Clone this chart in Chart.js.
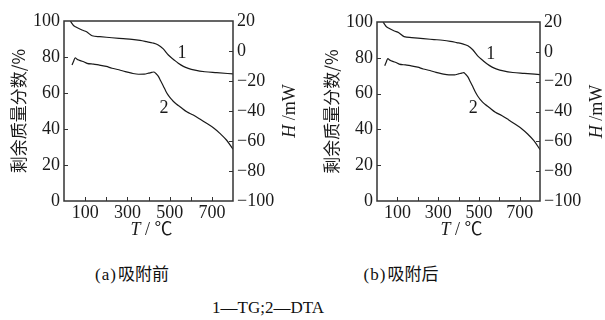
<!DOCTYPE html>
<html>
<head>
<meta charset="utf-8">
<script src="https://cdn.jsdelivr.net/npm/chart.js@4.4.1/dist/chart.umd.min.js"></script>
<style>
  body { margin: 0; background: #fff; width: 605px; height: 320px; position: relative; overflow: hidden; }
  canvas { position: absolute; top: 0; }
  #pa { left: 0; }
  #pb { left: 313px; }
  .cap { position: absolute; transform: translateX(-50%); white-space: nowrap; color: #111;
         font: 17px "Liberation Serif", "Noto Sans CJK SC", serif; }
  .cap span { letter-spacing: 1px; margin-right: 1px; }
</style>
</head>
<body>
<canvas id="pa" width="300" height="250" style="width:300px;height:250px"></canvas>
<canvas id="pb" width="292" height="250" style="width:292px;height:250px"></canvas>
<div class="cap" style="left:132px;top:260px"><span>(a)</span>吸附前</div>
<div class="cap" style="left:401px;top:260px"><span>(b)</span>吸附后</div>
<div class="cap" style="left:268px;top:298px">1—TG;2—DTA</div>
<script>
// TG 曲线 (剩余质量分数 %)
const tgTemp = [30, 45, 54, 85, 107, 133, 170, 227, 280, 322, 360, 391, 420, 446, 470, 494, 520, 541, 565, 588, 620, 667, 723, 800];
const tgMass = [100, 97.5, 96.8, 95, 94, 91.8, 91.3, 90.7, 90.2, 89.8, 89.2, 88.5, 87.8, 86.7, 84.5, 81.1, 78.5, 76.5, 74.8, 73.7, 72.7, 71.8, 71.3, 70.6];

// DTA 曲线 (H / mW)
const dtaTemp = [38, 45, 53, 62, 69, 90, 109, 140, 164, 200, 227, 260, 290, 320, 353, 380, 400, 415, 425, 435, 446, 458, 470, 482, 494, 506, 517, 533, 549, 581, 612, 645, 675, 710, 738, 770, 800];
const dtaHeat = [-9.3, -7, -4.5, -5.5, -6, -7, -8.2, -8.8, -9.3, -10.3, -11.5, -12.5, -13.8, -14.8, -15.5, -15.4, -14.8, -14.3, -14, -15, -16.8, -20, -23.3, -26.8, -29.6, -31.8, -33.5, -35.5, -37.1, -40.5, -42.7, -45.5, -48.2, -51.5, -54.9, -59.5, -65.5];

const xTicks = [100, 300, 500, 700];
const leftTitle = '剩余质量分数/%';
const curveLabels = [
  { text: '1', x: 558, y: 82 },
  { text: '2', x: 473, y: 51.7 }
];

const ink = '#1a1a1a';
const tickFont = { family: '"Liberation Serif", serif', size: 18 };

const framePlugin = {
  id: 'frame',
  afterDraw(chart) {
    const { ctx, chartArea: a, scales } = chart;
    ctx.save();
    ctx.strokeStyle = '#333';
    ctx.lineWidth = 1.5;
    ctx.strokeRect(a.left, a.top, a.right - a.left, a.bottom - a.top);

    // ticks pointing inward
    ctx.lineWidth = 1;
    ctx.beginPath();
    for (let v = 100; v < 800; v += 100) {
      const px = Math.round(scales.x.getPixelForValue(v)) + 0.5;
      ctx.moveTo(px, a.bottom); ctx.lineTo(px, a.bottom - 4);
    }
    for (let v = 20; v < 100; v += 20) {
      const py = Math.round(scales.y.getPixelForValue(v)) + 0.5;
      ctx.moveTo(a.left, py); ctx.lineTo(a.left + 4, py);
    }
    for (let v = -80; v < 20; v += 20) {
      const py = Math.round(scales.y1.getPixelForValue(v)) + 0.5;
      ctx.moveTo(a.right, py); ctx.lineTo(a.right - 4, py);
    }
    ctx.stroke();

    ctx.fillStyle = ink;
    const midY = (a.top + a.bottom) / 2;

    // left title
    ctx.save();
    ctx.translate(19, midY);
    ctx.rotate(-Math.PI / 2);
    ctx.font = '17px "Noto Sans CJK SC", sans-serif';
    ctx.textAlign = 'center';
    ctx.textBaseline = 'middle';
    ctx.fillText(leftTitle, 0, 0);
    ctx.restore();

    // right title H /mW
    ctx.save();
    ctx.translate(a.right + 57, midY);
    ctx.rotate(-Math.PI / 2);
    ctx.textBaseline = 'middle';
    ctx.textAlign = 'left';
    const itF = 'italic 18px "Liberation Serif", serif';
    const nF = '18px "Liberation Serif", serif';
    ctx.font = itF; const wH = ctx.measureText('H').width;
    ctx.font = nF; const wR = ctx.measureText(' /mW').width;
    ctx.font = itF; ctx.fillText('H', -(wH + wR) / 2, 0);
    ctx.font = nF; ctx.fillText(' /mW', -(wH + wR) / 2 + wH, 0);
    ctx.restore();

    // bottom title T / ℃
    ctx.save();
    ctx.textBaseline = 'middle';
    ctx.textAlign = 'left';
    const tF = 'italic 18px "Liberation Serif", serif';
    const uF = '18px "Liberation Serif", "Noto Sans CJK SC", serif';
    ctx.font = tF; const wT = ctx.measureText('T').width;
    ctx.font = uF; const wU = ctx.measureText(' / ℃').width;
    const cx = (a.left + a.right) / 2 + 3;
    ctx.font = tF; ctx.fillText('T', cx - (wT + wU) / 2, 230);
    ctx.font = uF; ctx.fillText(' / ℃', cx - (wT + wU) / 2 + wT, 230);
    ctx.restore();

    // curve labels
    ctx.font = '18px "Liberation Serif", serif';
    ctx.textAlign = 'center';
    ctx.textBaseline = 'middle';
    curveLabels.forEach(l => {
      ctx.fillText(l.text, scales.x.getPixelForValue(l.x), scales.y.getPixelForValue(l.y));
    });
    ctx.restore();
  }
};

function makePanel(id, rightW, topPad) {
  const tg = tgTemp.map((t, i) => ({ x: t, y: tgMass[i] }));
  const dta = dtaTemp.map((t, i) => ({ x: t, y: dtaHeat[i] }));
  return new Chart(document.getElementById(id), {
    type: 'line',
    data: {
      datasets: [
        { label: 'TG', data: tg, yAxisID: 'y', borderColor: ink, borderWidth: 1.2,
          pointRadius: 0, cubicInterpolationMode: 'monotone' },
        { label: 'DTA', data: dta, yAxisID: 'y1', borderColor: ink, borderWidth: 1.2,
          pointRadius: 0, cubicInterpolationMode: 'monotone' }
      ]
    },
    options: {
      responsive: false,
      animation: false,
      layout: { padding: { top: topPad, left: 0, right: 0, bottom: 0 } },
      plugins: { legend: { display: false }, tooltip: { enabled: false } },
      scales: {
        x: {
          type: 'linear', min: 0, max: 800,
          afterFit: s => { s.height = 49; },
          grid: { display: false, drawTicks: false },
          border: { display: false },
          afterBuildTicks: s => { s.ticks = xTicks.map(v => ({ value: v })); },
          ticks: { font: tickFont, color: ink, padding: 1, maxRotation: 0, autoSkip: false }
        },
        y: {
          position: 'left', min: 0, max: 100,
          afterFit: s => { s.width = 64; },
          grid: { display: false, drawTicks: false },
          border: { display: false },
          ticks: { stepSize: 20, font: tickFont, color: ink, padding: 4 }
        },
        y1: {
          position: 'right', min: -100, max: 20,
          afterFit: s => { s.width = rightW; },
          grid: { display: false, drawTicks: false },
          border: { display: false },
          ticks: { stepSize: 20, font: tickFont, color: ink, padding: 4,
                   callback: v => v < 0 ? '−' + (-v) : v }
        }
      }
    },
    plugins: [framePlugin]
  });
}

makePanel('pa', 67, 21);
makePanel('pb', 65, 22);
</script>
</body>
</html>
